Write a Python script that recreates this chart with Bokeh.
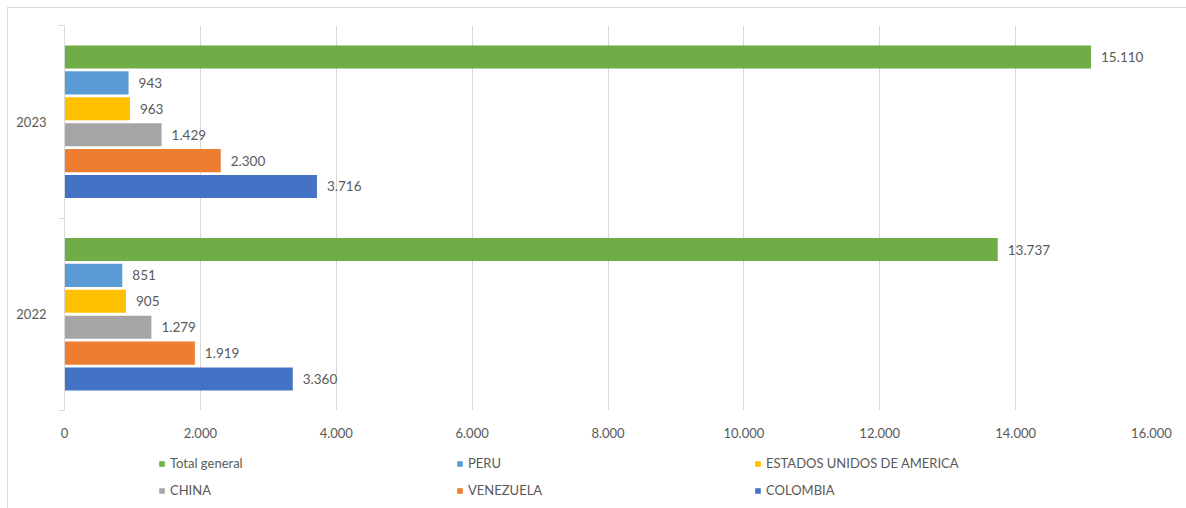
from bokeh.plotting import figure
from bokeh.models import ColumnDataSource, FixedTicker, Legend, LegendItem, Range1d
from bokeh.layouts import column
from bokeh.transform import dodge
from bokeh.core.properties import value
from bokeh.embed import file_html
from bokeh.resources import INLINE

years = ["2022", "2023"]
series = ["Total general", "PERU", "ESTADOS UNIDOS DE AMERICA", "CHINA", "VENEZUELA", "COLOMBIA"]
total_general = [13737, 15110]
peru = [851, 943]
eeuu = [905, 963]
china = [1279, 1429]
venezuela = [1919, 2300]
colombia = [3360, 3716]
x_ticks = [0, 2000, 4000, 6000, 8000, 10000, 12000, 14000, 16000]

values = [total_general, peru, eeuu, china, venezuela, colombia]
colors = ["#70AD47", "#5B9BD5", "#FFC000", "#A5A5A5", "#ED7D31", "#4472C4"]

FONT = "Lato"
TXT = "#595959"
GRID = "#d9d9d9"


def fmt(v):
    return f"{v:,}".replace(",", ".")


p = figure(width=1178, height=440, x_range=(0, 16000), y_range=(-0.5, 1.5),
           output_backend="svg", toolbar_location=None,
           min_border_left=56, min_border_top=17, min_border_right=35, min_border_bottom=38)
p.outline_line_color = None

# legend strip (shares the x scale; its y window lies away from the bars)
lg = figure(width=1178, height=60, x_range=p.x_range, y_range=Range1d(5, 6),
            output_backend="svg", toolbar_location=None,
            x_axis_location=None, y_axis_location=None,
            min_border_left=0, min_border_right=0, min_border_top=0, min_border_bottom=0)
lg.grid.grid_line_color = None
lg.outline_line_color = None

pitch = 0.1345
bar_h = 0.12
items = []
for i, (name, vals, col) in enumerate(zip(series, values, colors)):
    off = (2.5 - i) * pitch
    src = ColumnDataSource(dict(y=list(range(len(years))), v=vals, lab=[fmt(v) for v in vals]))
    p.hbar(y=dodge("y", off), right="v", left=0, height=bar_h, source=src,
           fill_color=col, line_color=None)
    p.text(x="v", y=dodge("y", off), text="lab", source=src, x_offset=10,
           text_align="left", text_baseline="middle", text_font=value(FONT),
           text_font_size="13.5px", text_color=TXT)
    r = lg.hbar(y=dodge("y", off), right="v", left=0, height=bar_h, source=src,
                fill_color=col, line_color=None)
    items.append(LegendItem(label=name, renderers=[r]))

# y axis
p.yaxis.ticker = FixedTicker(ticks=list(range(len(years))), minor_ticks=[-0.5, 0.5, 1.5])
p.yaxis.major_label_overrides = {i: y for i, y in enumerate(years)}
p.yaxis.major_tick_out = 0
p.yaxis.major_tick_in = 0
p.yaxis.minor_tick_out = 6
p.yaxis.minor_tick_in = 0
p.yaxis.axis_line_color = GRID
p.yaxis.minor_tick_line_color = GRID
p.yaxis.major_label_standoff = 12
p.yaxis.major_label_text_font = FONT
p.yaxis.major_label_text_font_size = "13px"
p.yaxis.major_label_text_color = TXT

# x axis
p.xaxis.ticker = FixedTicker(ticks=x_ticks)
p.xaxis.major_label_overrides = {t: fmt(t) for t in x_ticks}
p.xaxis.axis_line_color = None
p.xaxis.major_tick_line_color = None
p.xaxis.minor_tick_line_color = None
p.xaxis.major_label_standoff = 11
p.xaxis.major_label_text_font = FONT
p.xaxis.major_label_text_font_size = "13px"
p.xaxis.major_label_text_color = TXT

p.xgrid.ticker = FixedTicker(ticks=x_ticks)
p.xgrid.grid_line_color = GRID
p.ygrid.grid_line_color = None

for row, vy in ((items[:3], 36), (items[3:], 9)):
    legend = Legend(items=row, orientation="horizontal", location=(94, vy),
                    glyph_width=7, glyph_height=7, label_width=280, label_height=18,
                    label_standoff=5, spacing=6, padding=2, margin=0,
                    label_text_font=FONT, label_text_font_size="13px", label_text_color=TXT,
                    border_line_color=None, background_fill_alpha=0)
    lg.add_layout(legend)

layout = column(p, lg, spacing=0)
layout.styles = {"margin-left": "7px", "margin-top": "7px",
                 "border-top": "1px solid #d9d9d9", "border-left": "1px solid #d9d9d9"}

open("out.html", "w").write(file_html(layout, INLINE))
